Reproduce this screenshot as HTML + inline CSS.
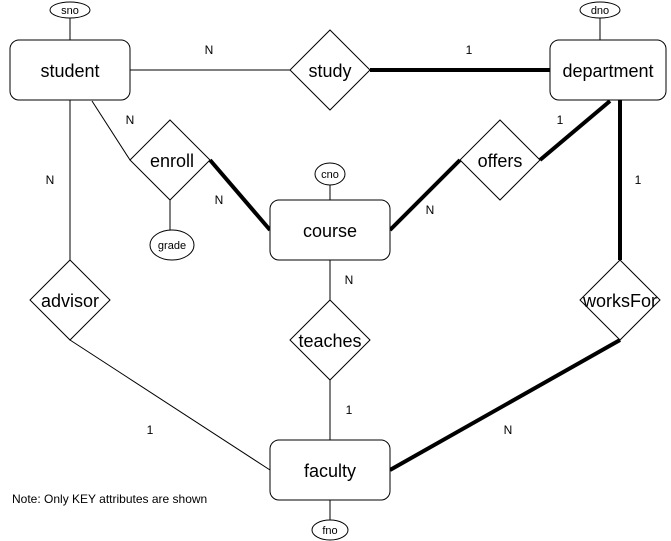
<!DOCTYPE html>
<html><head><style>body{margin:0;background:#fff}svg{display:block}text{font-family:"Liberation Sans",Arial,sans-serif;fill:#000}</style></head>
<body>
<svg width="671" height="541" viewBox="0 0 671 541" xmlns="http://www.w3.org/2000/svg">
<g stroke="#000" fill="none">
<line x1="70" y1="18" x2="70" y2="40" stroke-width="1"/>
<line x1="600" y1="18" x2="600" y2="40"/>
<line x1="330" y1="185" x2="330" y2="200"/>
<line x1="330" y1="500" x2="330" y2="520"/>
<line x1="130" y1="70" x2="290" y2="70"/>
<line x1="92" y1="101" x2="130" y2="160"/>
<line x1="170" y1="200" x2="170" y2="230"/>
<line x1="70" y1="100" x2="70" y2="260"/>
<line x1="330" y1="260" x2="330" y2="300"/>
<line x1="330" y1="380" x2="330" y2="440"/>
<line x1="70" y1="340" x2="270" y2="470"/>
<g stroke-width="4">
<line x1="370" y1="70" x2="550" y2="70"/>
<line x1="210" y1="160" x2="270" y2="230"/>
<line x1="390" y1="230" x2="460" y2="160"/>
<line x1="540" y1="160" x2="610" y2="101"/>
<line x1="620" y1="100" x2="620" y2="260"/>
<line x1="620" y1="340" x2="390" y2="470"/>
</g>
<g fill="#fff" stroke-width="1">
<rect x="10" y="40" width="120" height="60" rx="9"/>
<rect x="550" y="40" width="116" height="60" rx="9"/>
<rect x="270" y="200" width="120" height="60" rx="9"/>
<rect x="270" y="440" width="120" height="60" rx="9"/>
<polygon points="330,30 370,70 330,110 290,70"/>
<polygon points="170,120 210,160 170,200 130,160"/>
<polygon points="500,120 540,160 500,200 460,160"/>
<polygon points="70,260 110,300 70,340 30,300"/>
<polygon points="330,300 370,340 330,380 290,340"/>
<polygon points="620,260 660,300 620,340 580,300"/>
<ellipse cx="70" cy="10" rx="20" ry="8"/>
<ellipse cx="600" cy="10" rx="20" ry="8"/>
<ellipse cx="330" cy="174" rx="15" ry="11"/>
<ellipse cx="172" cy="245" rx="22" ry="15"/>
<ellipse cx="330" cy="530" rx="18" ry="10"/>
</g>
</g>
<g font-size="18" text-anchor="middle">
<text x="70" y="77">student</text>
<text x="608" y="77">department</text>
<text x="330" y="237">course</text>
<text x="330" y="477">faculty</text>
<text x="330" y="77">study</text>
<text x="172" y="167">enroll</text>
<text x="500" y="167">offers</text>
<text x="70" y="307">advisor</text>
<text x="330" y="347">teaches</text>
<text x="620" y="307">worksFor</text>
</g>
<g font-size="11" text-anchor="middle">
<text x="70" y="14">sno</text>
<text x="600" y="14">dno</text>
<text x="330" y="178">cno</text>
<text x="172" y="249">grade</text>
<text x="330" y="534">fno</text>
</g>
<g font-size="12" text-anchor="middle">
<text x="209" y="54">N</text>
<text x="469" y="54">1</text>
<text x="130" y="124">N</text>
<text x="50" y="184">N</text>
<text x="219" y="204">N</text>
<text x="560" y="124">1</text>
<text x="430" y="214">N</text>
<text x="638" y="184">1</text>
<text x="349" y="284">N</text>
<text x="349" y="414">1</text>
<text x="150" y="434">1</text>
<text x="508" y="434">N</text>
</g>
<text x="12" y="503" font-size="12">Note: Only KEY attributes are shown</text>
</svg>
</body></html>
